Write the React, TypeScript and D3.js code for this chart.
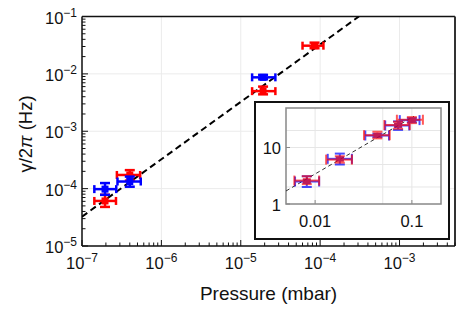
import React from "react";
import * as d3 from "d3";

const W = 469;
const H = 316;
const FONT = "'Liberation Sans', Arial, sans-serif";

// main panel: pressure (mbar) vs gamma/2pi (Hz)
const redP = [1.95e-7, 4.0e-7, 1.91e-5, 8.5e-5];
const redPLo = [1.43e-7, 2.75e-7, 1.39e-5, 6.0e-5];
const redPHi = [2.68e-7, 5.4e-7, 2.73e-5, 1.1e-4];
const redG = [6.1e-5, 1.73e-4, 5.0e-3, 0.031];
const redGLo = [4.8e-5, 1.38e-4, 4.4e-3, 0.028];
const redGHi = [7.8e-5, 2.1e-4, 6.0e-3, 0.035];

const blueP = [1.95e-7, 4.0e-7, 1.91e-5];
const bluePLo = [1.43e-7, 2.8e-7, 1.39e-5];
const bluePHi = [2.7e-7, 5.5e-7, 2.73e-5];
const blueG = [9.8e-5, 1.33e-4, 8.7e-3];
const blueGLo = [7.8e-5, 1.08e-4, 8.05e-3];
const blueGHi = [1.25e-4, 1.62e-4, 9.6e-3];

const fitK = 325; // gamma = k * p
const xDecades = [-7, -6, -5, -4, -3];
const yDecades = [-5, -4, -3, -2, -1];

// inset panel
const inRedX = [0.0082, 0.018, 0.044, 0.072, 0.1];
const inRedXLo = [0.0061, 0.013, 0.032, 0.052, 0.07];
const inRedXHi = [0.011, 0.024, 0.059, 0.095, 0.13];
const inRedY = [2.6, 6.1, 16.5, 25, 31];
const inRedYLo = [2.25, 5.4, 14.5, 21.5, 27];
const inRedYHi = [3.1, 7.0, 19, 28.5, 34.5];

const inBlueX = [0.0082, 0.018, 0.044, 0.072, 0.1];
const inBlueXLo = [0.0062, 0.0135, 0.033, 0.053, 0.075];
const inBlueXHi = [0.011, 0.024, 0.058, 0.094, 0.12];
const inBlueY = [2.5, 6.3, 16.3, 24.5, 30.5];
const inBlueYLo = [2.0, 5.0, 15.3, 20.5, 28];
const inBlueYHi = [3.1, 7.8, 17.5, 29, 33];

const inFitK = 340;
const inFitX = [0.005, 0.105];
const inXTicks = [0.01, 0.1];
const inXGrid = [0.01, 0.05, 0.1];
const inYTicks = [1, 10];
const inYGrid = [2, 5, 10, 20];

type Pt = { x: number; y: number; xlo: number; xhi: number; ylo: number; yhi: number };

const zip = (x: number[], xlo: number[], xhi: number[], y: number[], ylo: number[], yhi: number[]): Pt[] =>
	x.map((v, i) => ({ x: v, y: y[i], xlo: xlo[i], xhi: xhi[i], ylo: ylo[i], yhi: yhi[i] }));

const Pow10 = ({ e, x, y, anchor }: { e: number; x: number; y: number; anchor: string }) => (
	<text x={x} y={y} textAnchor={anchor} fontSize={16.5} fontFamily={FONT} fill="#111">
		10<tspan fontSize={12} dy={-7}>{"\u2212" + Math.abs(e)}</tspan>
	</text>
);

const ErrBars = ({ pts, sx, sy, color, sw, hcap, vcap, mw, mh, opacity }: any) => (
	<g stroke={color} strokeWidth={sw} opacity={opacity} fill="none">
		{pts.map((d: Pt, i: number) => {
			const cx = sx(d.x), cy = sy(d.y);
			const x0 = sx(d.xlo), x1 = sx(d.xhi), y0 = sy(d.ylo), y1 = sy(d.yhi);
			return (
				<g key={i}>
					<line x1={x0} x2={x1} y1={cy} y2={cy} />
					<line x1={x0} x2={x0} y1={cy - hcap} y2={cy + hcap} />
					<line x1={x1} x2={x1} y1={cy - hcap} y2={cy + hcap} />
					<line x1={cx} x2={cx} y1={y0} y2={y1} />
					<line x1={cx - vcap} x2={cx + vcap} y1={y0} y2={y0} />
					<line x1={cx - vcap} x2={cx + vcap} y1={y1} y2={y1} />
					<rect x={cx - mw / 2} y={cy - mh / 2} width={mw} height={mh} fill={color} stroke="none" />
				</g>
			);
		})}
	</g>
);

export default function App() {
	const left = 82, right = 455, top = 16.5, bottom = 246;
	const x = d3.scaleLog().domain([1e-7, 5e-3]).range([left, right]);
	const y = d3.scaleLog().domain([1e-5, 1e-1]).range([bottom, top]);

	const xMinor: number[] = [];
	xDecades.forEach(d => { for (let m = 2; m <= 9; m++) { const v = m * Math.pow(10, d); if (v <= 5e-3) xMinor.push(v); } });
	const yMinor: number[] = [];
	yDecades.slice(0, 4).forEach(d => { for (let m = 2; m <= 9; m++) yMinor.push(m * Math.pow(10, d)); });

	const red = zip(redP, redPLo, redPHi, redG, redGLo, redGHi);
	const blue = zip(blueP, bluePLo, bluePHi, blueG, blueGLo, blueGHi);

	const fitLine = d3.line<number>().x(p => x(p)).y(p => y(fitK * p));
	const fitPts = [1e-7, 1e-1 / fitK];

	// inset
	const il = 286, ir = 441, it = 108, ib = 204;
	const ix = d3.scaleLog().domain([0.005, 0.2]).range([il, ir]);
	const iy = d3.scaleLog().domain([1, 50]).range([ib, it]);
	const inRed = zip(inRedX, inRedXLo, inRedXHi, inRedY, inRedYLo, inRedYHi);
	const inBlue = zip(inBlueX, inBlueXLo, inBlueXHi, inBlueY, inBlueYLo, inBlueYHi);
	const inFit = d3.line<number>().x(p => ix(p)).y(p => iy(inFitK * p));

	return (
		<svg width={W} height={H} style={{ position: "absolute", left: 0, top: 0, background: "#fff" }}>
			<defs>
				<clipPath id="mainClip"><rect x={left} y={top} width={right - left} height={bottom - top} /></clipPath>
			</defs>
			{/* grid */}
			<g stroke="#ebebeb" strokeWidth={1}>
				{xDecades.map(d => <line key={"gx" + d} x1={x(Math.pow(10, d))} x2={x(Math.pow(10, d))} y1={top} y2={bottom} />)}
				{yDecades.map(d => <line key={"gy" + d} x1={left} x2={right} y1={y(Math.pow(10, d))} y2={y(Math.pow(10, d))} />)}
			</g>

			{/* frame */}
			<line x1={left} x2={right} y1={top} y2={top} stroke="#111" strokeWidth={1.5} />
			<line x1={right} x2={right} y1={top} y2={bottom} stroke="#333" strokeWidth={2} />
			<line x1={left} x2={left} y1={top} y2={bottom} stroke="#111" strokeWidth={1.5} />
			<line x1={left} x2={right} y1={bottom} y2={bottom} stroke="#111" strokeWidth={1.5} />

			{/* ticks */}
			<g stroke="#111" strokeWidth={1}>
				{xDecades.map(d => <line key={"tx" + d} x1={x(Math.pow(10, d))} x2={x(Math.pow(10, d))} y1={bottom} y2={bottom - 6} />)}
				{xMinor.map((v, i) => <line key={"mx" + i} x1={x(v)} x2={x(v)} y1={bottom} y2={bottom - 3.5} />)}
				{yDecades.map(d => <line key={"ty" + d} x1={left} x2={left + 6} y1={y(Math.pow(10, d))} y2={y(Math.pow(10, d))} />)}
				{yMinor.map((v, i) => <line key={"my" + i} x1={left} x2={left + 3.5} y1={y(v)} y2={y(v)} />)}
			</g>
			{xDecades.map(d => <Pow10 key={"lx" + d} e={d} x={x(Math.pow(10, d))} y={268.5} anchor="middle" />)}
			{yDecades.map(d => <Pow10 key={"ly" + d} e={d} x={77} y={y(Math.pow(10, d)) + 7} anchor="end" />)}

			<text x={(left + right) / 2} y={300} textAnchor="middle" fontSize={19} fontFamily={FONT} fill="#111">Pressure (mbar)</text>
			<text transform="translate(32,134) rotate(-90)" textAnchor="middle" fontSize={18.5} fontFamily={FONT} fill="#111">
				γ/2<tspan fontStyle="italic">π</tspan> (Hz)
			</text>

			{/* fit + data */}
			<g clipPath="url(#mainClip)">
				<path d={fitLine(fitPts) || ""} fill="none" stroke="#000" strokeWidth={2} strokeDasharray="6.5,4" />
			</g>
			<ErrBars pts={red} sx={x} sy={y} color="#ff0000" sw={2.5} hcap={4} vcap={5} mw={7} mh={7} opacity={1} />
			<ErrBars pts={blue} sx={x} sy={y} color="#0000ff" sw={2.5} hcap={4} vcap={5} mw={7} mh={7} opacity={1} />

			{/* inset */}
			<rect x={255} y={102} width={194} height={137} fill="#fff" stroke="#111" strokeWidth={2} />
			<g stroke="#e6e6e6" strokeWidth={1}>
				{inXGrid.map(v => <line key={"igx" + v} x1={ix(v)} x2={ix(v)} y1={it} y2={ib} />)}
				{inYGrid.map(v => <line key={"igy" + v} x1={il} x2={ir} y1={iy(v)} y2={iy(v)} />)}
			</g>
			<rect x={il} y={it} width={ir - il} height={ib - it} fill="none" stroke="#888" strokeWidth={1.5} />
			<g stroke="#888" strokeWidth={1}>
				{inXTicks.map(v => <line key={"itx" + v} x1={ix(v)} x2={ix(v)} y1={ib} y2={ib - 4} />)}
				{inYTicks.map(v => <line key={"ity" + v} x1={il} x2={il + 4} y1={iy(v)} y2={iy(v)} />)}
			</g>
			{inXTicks.map(v => (
				<text key={"ilx" + v} x={ix(v)} y={227} textAnchor="middle" fontSize={16.5} fontFamily={FONT} fill="#111">{String(v)}</text>
			))}
			{inYTicks.map(v => (
				<text key={"ily" + v} x={281} y={iy(v) + 6.5} textAnchor="end" fontSize={16.5} fontFamily={FONT} fill="#111">{String(v)}</text>
			))}
			<path d={inFit(inFitX) || ""} fill="none" stroke="#333" strokeWidth={1} strokeDasharray="4,3" />
			<ErrBars pts={inBlue} sx={ix} sy={iy} color="#0000ff" sw={2} hcap={5} vcap={5} mw={8} mh={5} opacity={0.7} />
			<ErrBars pts={inRed} sx={ix} sy={iy} color="#ff0000" sw={2} hcap={5} vcap={5} mw={8} mh={5} opacity={0.65} />
		</svg>
	);
}
